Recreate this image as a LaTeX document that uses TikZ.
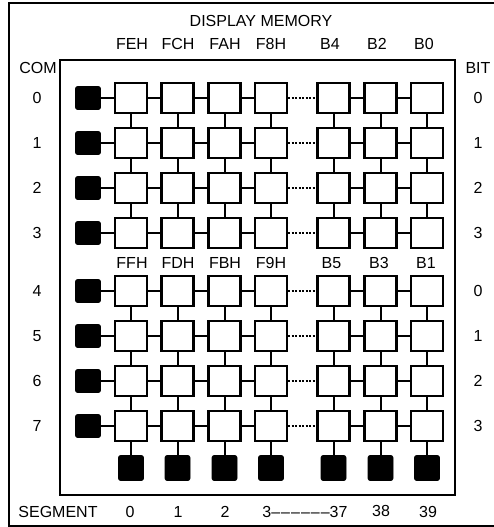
\documentclass[tikz,border=0pt]{standalone}
\usepackage{fontspec}
\setmainfont{Liberation Sans}
\begin{document}
\begin{tikzpicture}[x=1pt,y=-1pt,
  cell/.style={draw, line width=2.3pt, minimum width=32pt, minimum height=30pt, inner sep=0pt, fill=white},
  comdrv/.style={fill=black, draw=black, line width=0.6pt, rounded corners=2pt, minimum width=25pt, minimum height=23pt, inner sep=0pt},
  segdrv/.style={comdrv, minimum height=25pt},
  wire/.style={line width=2pt},
  dots/.style={line width=1.8pt, dash pattern=on 2.2pt off 1.3pt},
  lbl/.style={font=\fontsize{16}{19}\selectfont, inner sep=0pt},
  frame/.style={line width=2pt}]
\useasboundingbox (0,0) rectangle (494,527);
% frames
\draw[frame] (494,3) -- (9,3) -- (9,526) -- (494,526);
\draw[frame] (60,60) rectangle (455,495);
% cells
\foreach \c/\x in {1/131,2/177.5,3/224.5,4/271,5/333.5,6/380.5,7/427}{
  \foreach \r/\y in {0/98,1/143,2/188,3/233,4/291,5/336,6/381,7/426}{
    \node[cell] (m-\r-\c) at (\x,\y) {};
  }
  \node[segdrv] (seg-\c) at (\x,468) {};
}
\foreach \r/\y in {0/98,1/143,2/188,3/233,4/291,5/336,6/381,7/426}{
  \node[comdrv] (com-\r) at (88,\y) {};
}
% horizontal connectors
\foreach \r in {0,...,7}{
  \draw[wire] (com-\r) -- (m-\r-1);
  \foreach \c in {1,2,3,5,6}{
    \pgfmathtruncatemacro{\n}{\c+1}
    \draw[wire] (m-\r-\c) -- (m-\r-\n);
  }
  \draw[dots] (m-\r-4) -- (m-\r-5);
}
% vertical connectors
\foreach \c in {1,...,7}{
  \foreach \r in {0,1,2,4,5,6}{
    \pgfmathtruncatemacro{\n}{\r+1}
    \draw[wire] (m-\r-\c) -- (m-\n-\c);
  }
  \draw[wire] (m-7-\c) -- (seg-\c);
}
% labels
\node[lbl] (title) at (261,21) {DISPLAY MEMORY};
\foreach \t/\x [count=\i] in {FEH/132,FCH/178,FAH/225,F8H/271,B4/330,B2/377,B0/424}{
  \node[lbl] (hu-\i) at (\x,44) {\t};
}
\foreach \t/\x [count=\i] in {FFH/132,FDH/178,FBH/225,F9H/271,B5/331.5,B3/379,B1/426}{
  \node[lbl] (hl-\i) at (\x,263) {\t};
}
\node[lbl] (com) at (38,68) {COM};
\node[lbl] (bit) at (478,68) {BIT};
\foreach \t/\y [count=\i] in {0/98,1/143,2/188,3/233,4/291,5/336,6/381,7/426}{
  \node[lbl] (cl-\i) at (37,\y) {\t};
}
\foreach \t/\y [count=\i] in {0/98,1/143,2/188,3/233,0/291,1/336,2/381,3/426}{
  \node[lbl] (bl-\i) at (478,\y) {\t};
}
\node[lbl] (segment) at (58,512) {SEGMENT};
\node[lbl] (s0) at (130,512) {0};
\node[lbl] (s1) at (178,512) {1};
\node[lbl] (s2) at (225,512) {2};
\node[lbl] (s3) at (305,512) {3–\kern1pt–\kern1pt–\kern1pt–\kern1pt–\kern1pt–37};
\node[lbl] (s38) at (381,511) {38};
\node[lbl] (s39) at (428,512) {39};
\end{tikzpicture}
\end{document}
